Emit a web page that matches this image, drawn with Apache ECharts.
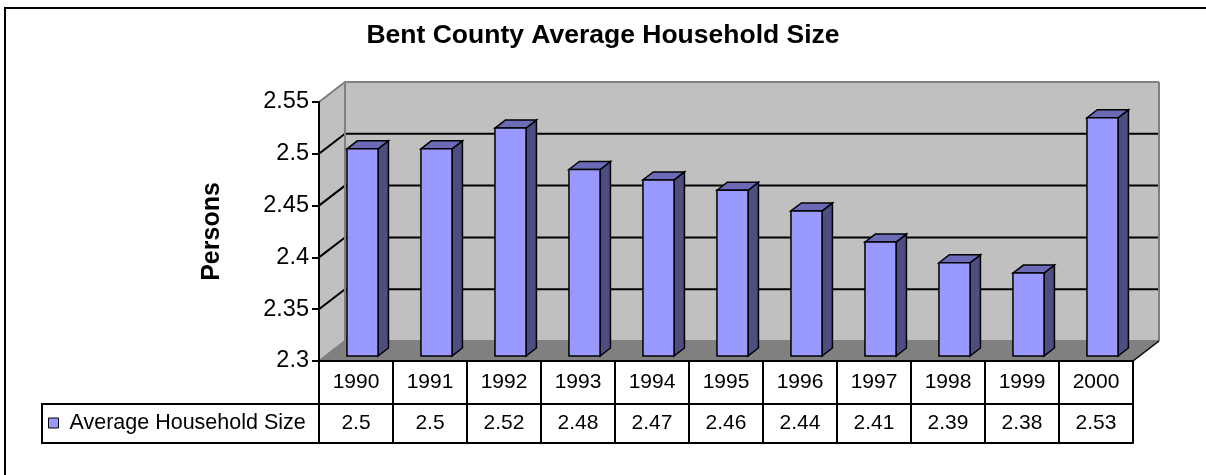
<!DOCTYPE html>
<html>
<head>
<meta charset="utf-8">
<script src="https://cdn.jsdelivr.net/npm/echarts@6/dist/echarts.min.js"></script>
<style>
    html, body { margin: 0; padding: 0; background: #fff; }
    #chart { width: 1206px; height: 475px; }
</style>
</head>
<body>
<div id="chart"></div>
<script>
    // chart data
    var years = ['1990', '1991', '1992', '1993', '1994', '1995', '1996', '1997', '1998', '1999', '2000'];
    var householdSize = [2.5, 2.5, 2.52, 2.48, 2.47, 2.46, 2.44, 2.41, 2.39, 2.38, 2.53];
    var yTicks = [2.3, 2.35, 2.4, 2.45, 2.5, 2.55];
    var seriesName = 'Average Household Size';

    var FONT = 'Liberation Sans, Arial, sans-serif';
    var DX = 26, DY = -20;          // depth of the 3d box
    var yMin = yTicks[0], yMax = yTicks[yTicks.length - 1];

    var myChart = echarts.init(document.getElementById('chart'), null, { renderer: 'canvas' });

    // back wall, side wall, floor and gridlines
    function renderWalls(params, api) {
        var cs = params.coordSys;
        var x0 = cs.x, x1 = cs.x + cs.width;
        var yTop = api.coord([0, yMax])[1];
        var yBot = api.coord([0, yMin])[1];
        var kids = [];
        // back wall
        kids.push({
            type: 'polygon',
            shape: { points: [[x0 + DX, yTop + DY], [x1 + DX, yTop + DY], [x1 + DX, yBot + DY], [x0 + DX, yBot + DY]] },
            style: { fill: '#c0c0c0', stroke: null }
        });
        // side wall
        kids.push({
            type: 'polygon',
            shape: { points: [[x0, yTop], [x0 + DX, yTop + DY], [x0 + DX, yBot + DY], [x0, yBot]] },
            style: { fill: '#c0c0c0', stroke: null }
        });
        // floor
        kids.push({
            type: 'polygon',
            shape: { points: [[x0, yBot], [x0 + DX, yBot + DY], [x1 + DX, yBot + DY], [x1, yBot]] },
            style: { fill: '#808080', stroke: null }
        });
        // gridlines
        yTicks.forEach(function (t) {
            var y = api.coord([0, t])[1];
            var edge = (t === yMin || t === yMax);
            kids.push({
                type: 'polyline',
                shape: { points: [[x0, y], [x0 + DX, y + DY], [x1 + DX, y + DY]] },
                style: { stroke: edge ? '#808080' : '#000', lineWidth: 2, fill: null }
            });
        });
        // wall edges
        kids.push({
            type: 'polyline',
            shape: { points: [[x0 + DX, yBot + DY], [x0 + DX, yTop + DY]] },
            style: { stroke: '#808080', lineWidth: 2, fill: null }
        });
        kids.push({
            type: 'polyline',
            shape: { points: [[x1 + DX, yTop + DY], [x1 + DX, yBot + DY]] },
            style: { stroke: '#808080', lineWidth: 2, fill: null }
        });
        kids.push({
            type: 'polyline',
            shape: { points: [[x1 + DX, yBot + DY], [x1, yBot]] },
            style: { stroke: '#000', lineWidth: 1.5, fill: null }
        });
        return { type: 'group', children: kids };
    }

    // 3d looking bar
    function renderBar(params, api) {
        var idx = api.value(0), val = api.value(1);
        var top = api.coord([idx, val]);
        var base = api.coord([idx, yMin]);
        var bw = api.size([1, 0])[0] * 0.42;
        var fx = 0.25 * DX, fy = 0.25 * DY;      // front face position in depth
        var sx = 0.4 * DX, sy = 0.4 * DY;        // bar thickness
        var l = top[0] - bw / 2 + fx, r = top[0] + bw / 2 + fx;
        var t = top[1] + fy, b = base[1] + fy;
        var line = { stroke: '#000', lineWidth: 1.5, lineJoin: 'miter' };
        return {
            type: 'group',
            children: [
                {
                    type: 'polygon',
                    shape: { points: [[r, t], [r + sx, t + sy], [r + sx, b + sy], [r, b]] },
                    style: Object.assign({ fill: '#4d4d80' }, line)
                },
                {
                    type: 'polygon',
                    shape: { points: [[l, t], [l + sx, t + sy], [r + sx, t + sy], [r, t]] },
                    style: Object.assign({ fill: '#6b6bb8' }, line)
                },
                {
                    type: 'rect',
                    shape: { x: l, y: t, width: r - l, height: b - t },
                    style: Object.assign({ fill: '#9999ff' }, line)
                }
            ]
        };
    }

    var option = {
        animation: false,
        title: {
            text: 'Bent County Average Household Size',
            left: 'center',
            top: 17,
            textStyle: { fontFamily: FONT, fontSize: 26.5, fontWeight: 'bold', color: '#000' }
        },
        legend: {
            data: [seriesName],
            left: 48,
            top: 412,
            padding: 0,
            icon: 'rect',
            itemWidth: 10,
            itemHeight: 10,
            itemGap: 0,
            itemStyle: { borderColor: '#000', borderWidth: 1 },
            textStyle: { fontFamily: FONT, fontSize: 21.5, color: '#000', padding: [0, 0, 0, 6] }
        },
        graphic: [
            {
                type: 'rect',
                shape: { x: 5, y: 8, width: 1220, height: 490 },
                style: { fill: null, stroke: '#000', lineWidth: 2 },
                silent: true
            },
            {
                type: 'rect',
                shape: { x: 42, y: 404, width: 277, height: 39 },
                style: { fill: null, stroke: '#000', lineWidth: 2 },
                silent: true
            }
        ],
        grid: {
            left: 319,
            right: 73,
            top: 102,
            bottom: 114,
            containLabel: false
        },
        xAxis: [
            {
                type: 'category',
                data: years,
                position: 'bottom',
                z: 5,
                axisLine: { show: true, lineStyle: { color: '#000', width: 2 } },
                axisTick: { show: true, length: 43, lineStyle: { color: '#000', width: 2 } },
                axisLabel: { margin: 11, fontFamily: FONT, fontSize: 21, color: '#000' },
                splitLine: { show: false }
            },
            {
                type: 'category',
                data: years,
                position: 'bottom',
                offset: 43,
                z: 5,
                axisLine: { show: true, lineStyle: { color: '#000', width: 2 } },
                axisTick: { show: true, length: 39, lineStyle: { color: '#000', width: 2 } },
                axisLabel: {
                    margin: 9, fontFamily: FONT, fontSize: 21, color: '#000',
                    formatter: function (val, i) { return String(householdSize[i]); }
                },
                splitLine: { show: false }
            },
            {
                type: 'category',
                data: years,
                position: 'bottom',
                offset: 82,
                z: 5,
                axisLine: { show: true, lineStyle: { color: '#000', width: 2 } },
                axisTick: { show: false },
                axisLabel: { show: false },
                splitLine: { show: false }
            }
        ],
        yAxis: {
            type: 'value',
            min: yMin,
            max: yMax,
            interval: 0.05,
            z: 5,
            name: 'Persons',
            nameLocation: 'middle',
            nameRotate: 90,
            nameGap: 94,
            nameTextStyle: { fontFamily: FONT, fontSize: 25, fontWeight: 'bold', color: '#000' },
            axisLine: { show: true, lineStyle: { color: '#000', width: 2 } },
            axisTick: { show: true, length: 7, lineStyle: { color: '#000', width: 2 } },
            axisLabel: { margin: 10, fontFamily: FONT, fontSize: 23.5, color: '#000' },
            splitLine: { show: false }
        },
        series: [
            {
                name: 'walls',
                type: 'custom',
                z: 1,
                silent: true,
                clip: false,
                renderItem: renderWalls,
                data: [[0, yMin]]
            },
            {
                name: seriesName,
                type: 'custom',
                z: 2,
                clip: false,
                itemStyle: { color: '#9999ff' },
                renderItem: renderBar,
                encode: { x: 0, y: 1 },
                data: householdSize.map(function (v, i) { return [i, v]; })
            }
        ]
    };

    myChart.setOption(option);
    window.onresize = function () {
        myChart.resize();
    };
</script>
</body>
</html>
